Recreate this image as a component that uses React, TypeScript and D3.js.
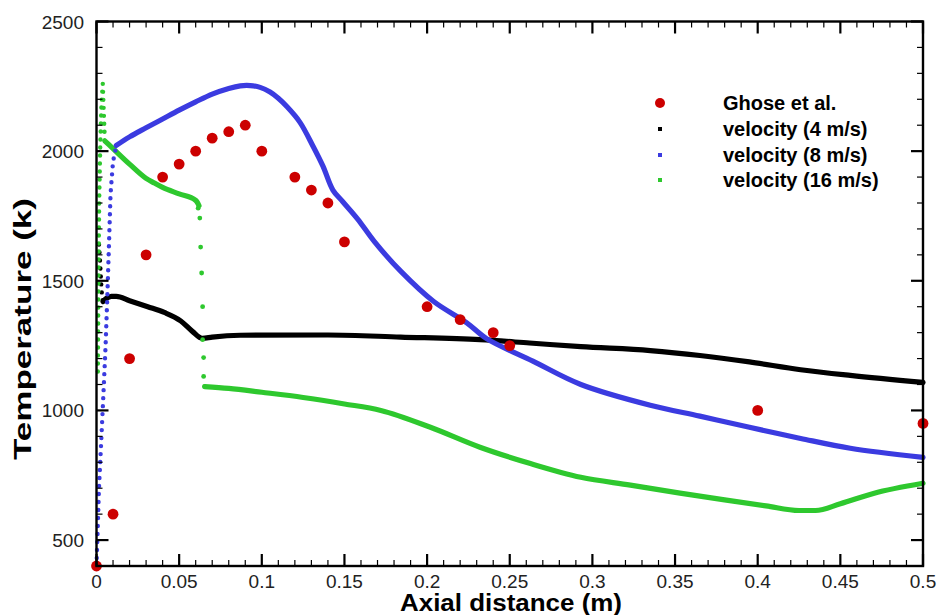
import React from "react";
import * as d3 from "d3";

// Experimental reference points (Ghose et al.)
const ghoseX = [0, 0.01, 0.02, 0.03, 0.04, 0.05, 0.06, 0.07, 0.08, 0.09, 0.1, 0.12, 0.13, 0.14, 0.15, 0.2, 0.22, 0.24, 0.25, 0.4, 0.5];
const ghoseT = [400, 600, 1200, 1600, 1900, 1950, 2000, 2050, 2075, 2100, 2000, 1900, 1850, 1800, 1650, 1400, 1350, 1300, 1250, 1000, 950];

// Inlet velocity 4 m/s
const v4RiseX = [0.0015, 0.002, 0.0025, 0.003, 0.0035, 0.004];
const v4RiseT = [1640, 1590, 1530, 1470, 1430, 1420];
const v4X = [0.004, 0.006, 0.009, 0.012, 0.02, 0.031, 0.041, 0.051, 0.058, 0.064, 0.07, 0.087, 0.14, 0.184, 0.232, 0.262, 0.293, 0.335, 0.365, 0.395, 0.426, 0.456, 0.5];
const v4T = [1420, 1432, 1440, 1440, 1423, 1400, 1378, 1345, 1305, 1278, 1283, 1290, 1291, 1283, 1273, 1260, 1246, 1231, 1212, 1187, 1157, 1135, 1108];

// Inlet velocity 8 m/s
const v8RiseX = [0, 0.0015, 0.003, 0.0042, 0.0055, 0.0066, 0.0076, 0.0085, 0.01, 0.012];
const v8RiseT = [400, 700, 900, 1065, 1250, 1450, 1650, 1835, 1960, 2020];
const v8X = [0.012, 0.02, 0.03, 0.04, 0.05, 0.06, 0.07, 0.08, 0.087, 0.093, 0.099, 0.105, 0.11, 0.115, 0.123, 0.131, 0.137, 0.143, 0.149, 0.158, 0.168, 0.184, 0.204, 0.224, 0.236, 0.264, 0.293, 0.335, 0.365, 0.395, 0.426, 0.456, 0.5];
const v8T = [2022, 2055, 2090, 2124, 2158, 2190, 2220, 2242, 2252, 2253, 2246, 2228, 2204, 2173, 2112, 2019, 1942, 1850, 1805, 1738, 1652, 1537, 1420, 1338, 1277, 1190, 1100, 1020, 978, 935, 892, 854, 819];

// Inlet velocity 16 m/s
const v16RiseX = [0.0008, 0.0012, 0.0016, 0.0022, 0.003, 0.0038, 0.0044, 0.005];
const v16RiseT = [1150, 1500, 1800, 2000, 2180, 2260, 2150, 2050];
const v16X = [0.005, 0.01, 0.02, 0.03, 0.035, 0.04, 0.05, 0.06, 0.062];
const v16T = [2040, 2010, 1950, 1895, 1877, 1860, 1835, 1810, 1790];
const v16DropX = [0.0615, 0.0625, 0.063, 0.0636, 0.0642, 0.0642, 0.0648, 0.0648, 0.0654];
const v16DropT = [1780, 1742, 1630, 1530, 1400, 1273, 1204, 1131, 1092];
const v16TailX = [0.0655, 0.08, 0.1, 0.125, 0.15, 0.172, 0.202, 0.232, 0.262, 0.293, 0.323, 0.353, 0.38, 0.405, 0.425, 0.435, 0.45, 0.47, 0.5];
const v16TailT = [1092, 1085, 1070, 1050, 1025, 1000, 935, 858, 796, 742, 712, 681, 655, 632, 614, 614, 640, 680, 719];

// Axis ticks
const xTicks = [0, 0.05, 0.1, 0.15, 0.2, 0.25, 0.3, 0.35, 0.4, 0.45, 0.5];
const xTickLabels = ["0", "0.05", "0.1", "0.15", "0.2", "0.25", "0.3", "0.35", "0.4", "0.45", "0.5"];
const yTicks = [500, 1000, 1500, 2000, 2500];
const yTickLabels = ["500", "1000", "1500", "2000", "2500"];

const legendLabels = ["Ghose et al.", "velocity (4 m/s)", "velocity (8 m/s)", "velocity (16 m/s)"];

const RED = "#cc0000";
const BLACK = "#000000";
const BLUE = "#3b3be0";
const GREEN = "#2ec82e";
const FONT = "'Liberation Sans', Arial, Helvetica, sans-serif";

const zip = (xs: number[], ys: number[]) => xs.map((x, i) => [x, ys[i]] as [number, number]);

export default function App() {
  const W = 938;
  const H = 615;
  const x = d3.scaleLinear().domain([0, 0.5]).range([96.5, 923]);
  const y = d3.scaleLinear().domain([400, 2500]).range([566, 21.5]);
  const [x0, x1] = x.range();
  const [y0, y1] = y.range();

  const smooth = d3
    .line<[number, number]>()
    .x((d) => x(d[0]))
    .y((d) => y(d[1]))
    .curve(d3.curveMonotoneX);
  const round = d3
    .line<[number, number]>()
    .x((d) => x(d[0]))
    .y((d) => y(d[1]))
    .curve(d3.curveCatmullRom.alpha(0.5));
  const straight = d3
    .line<[number, number]>()
    .x((d) => x(d[0]))
    .y((d) => y(d[1]));

  const xMinor = x.ticks(50).filter((v) => !xTicks.some((t) => Math.abs(t - v) < 1e-9));
  const yMinor = d3.range(400, 2501, 100).filter((v) => v % 500 !== 0);

  const majorLen = 12;
  const minorLen = 6;

  const solidStyle = { fill: "none", strokeWidth: 5.2, strokeLinejoin: "round" as const, strokeLinecap: "round" as const };
  const dotStyle = { fill: "none", strokeWidth: 4.4, strokeLinecap: "round" as const, strokeDasharray: "0 8" };

  const legendX = 660;
  const legendRows = [103, 129, 155, 180];

  return (
    <svg width={W} height={H} style={{ position: "absolute", left: 0, top: 0, background: "#fff" }} fontFamily={FONT}>
      <rect x={0} y={0} width={W} height={H} fill="#fff" />

      {/* series curves */}
      <path d={straight(zip(v4RiseX, v4RiseT)) || ""} stroke={BLACK} {...dotStyle} />
      <path d={smooth(zip(v4X, v4T)) || ""} stroke={BLACK} {...solidStyle} />

      <path d={straight(zip(v16RiseX, v16RiseT)) || ""} stroke={GREEN} {...dotStyle} />
      <path d={smooth(zip(v16X, v16T)) || ""} stroke={GREEN} {...solidStyle} />
      {zip(v16DropX, v16DropT).map((d, i) => (
        <circle key={"gd" + i} cx={x(d[0])} cy={y(d[1])} r={2.4} fill={GREEN} />
      ))}
      <path d={smooth(zip(v16TailX, v16TailT)) || ""} stroke={GREEN} {...solidStyle} />

      <path d={straight(zip(v8RiseX, v8RiseT)) || ""} stroke={BLUE} {...dotStyle} />
      <path d={round(zip(v8X, v8T)) || ""} stroke={BLUE} {...solidStyle} />

      {/* experimental points */}
      {zip(ghoseX, ghoseT).map((d, i) => (
        <circle key={"g" + i} cx={x(d[0])} cy={y(d[1])} r={5.4} fill={RED} />
      ))}

      {/* frame */}
      <rect x={x0} y={y1} width={x1 - x0} height={y0 - y1} fill="none" stroke="#000" strokeWidth={2.4} />

      {/* ticks on all four sides, pointing inward */}
      <g stroke="#000">
        {xTicks.map((t) => (
          <g key={"xt" + t} strokeWidth={2.2}>
            <line x1={x(t)} x2={x(t)} y1={y0} y2={y0 - majorLen} />
            <line x1={x(t)} x2={x(t)} y1={y1} y2={y1 + majorLen} />
          </g>
        ))}
        {xMinor.map((t) => (
          <g key={"xm" + t} strokeWidth={1.2}>
            <line x1={x(t)} x2={x(t)} y1={y0} y2={y0 - minorLen} />
            <line x1={x(t)} x2={x(t)} y1={y1} y2={y1 + minorLen} />
          </g>
        ))}
        {yTicks.map((t) => (
          <g key={"yt" + t} strokeWidth={2.2}>
            <line x1={x0} x2={x0 + majorLen} y1={y(t)} y2={y(t)} />
            <line x1={x1} x2={x1 - majorLen} y1={y(t)} y2={y(t)} />
          </g>
        ))}
        {yMinor.map((t) => (
          <g key={"ym" + t} strokeWidth={1.2}>
            <line x1={x0} x2={x0 + minorLen} y1={y(t)} y2={y(t)} />
            <line x1={x1} x2={x1 - minorLen} y1={y(t)} y2={y(t)} />
          </g>
        ))}
      </g>

      {/* tick labels */}
      <g fill="#222" fontSize={19}>
        {xTicks.map((t, i) => (
          <text key={"xl" + t} x={x(t)} y={588} textAnchor="middle">
            {xTickLabels[i]}
          </text>
        ))}
        {yTicks.map((t, i) => (
          <text key={"yl" + t} x={84} y={y(t) + 7} textAnchor="end">
            {yTickLabels[i]}
          </text>
        ))}
      </g>

      {/* axis titles */}
      <text
        x={511}
        y={611}
        textAnchor="middle"
        fontWeight="bold"
        fontSize={23}
        fill="#000"
        textLength={222}
        lengthAdjust="spacingAndGlyphs"
      >
        Axial distance (m)
      </text>
      <text
        transform={`translate(31, 329) rotate(-90)`}
        textAnchor="middle"
        fontWeight="bold"
        fontSize={24}
        fill="#000"
        textLength={262}
        lengthAdjust="spacingAndGlyphs"
      >
        Temperature (k)
      </text>

      {/* legend */}
      <g fontSize={20} fontWeight="bold" fill="#000">
        <circle cx={legendX} cy={legendRows[0]} r={5} fill={RED} />
        <rect x={legendX - 2} y={legendRows[1] - 2} width={4} height={4} fill={BLACK} />
        <rect x={legendX - 2} y={legendRows[2] - 2} width={4} height={4} fill={BLUE} />
        <rect x={legendX - 2} y={legendRows[3] - 2} width={4} height={4} fill={GREEN} />
        {legendLabels.map((l, i) => (
          <text key={l} x={723} y={legendRows[i] + 7}>
            {l}
          </text>
        ))}
      </g>
    </svg>
  );
}
